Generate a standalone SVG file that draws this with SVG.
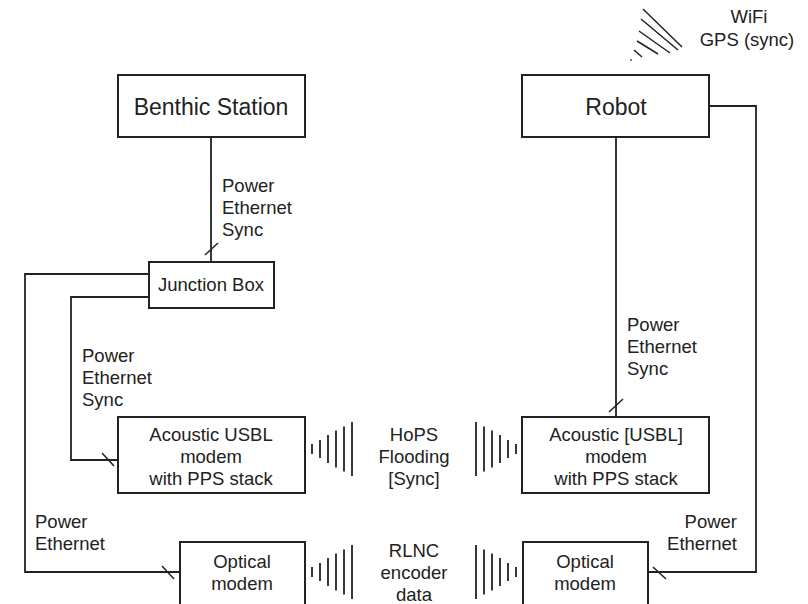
<svg xmlns="http://www.w3.org/2000/svg" width="808" height="604" viewBox="0 0 808 604">
  <style>
    .box { fill: #ffffff; stroke: #222222; stroke-width: 2; }
    .wire { fill: none; stroke: #222222; stroke-width: 1.8; }
    .tick { stroke: #222222; stroke-width: 1.5; }
    .wave { stroke: #222222; stroke-width: 1.8; }
    text { font-family: "Liberation Sans", Arial, sans-serif; font-size: 18.5px; fill: #222222; }
    .title { font-size: 23px; text-anchor: middle; }
    .mid { text-anchor: middle; }
    .end { text-anchor: end; }
  </style>
  <defs>
    <!-- fan of bars, growing taller away from the origin -->
    <g id="waveL">
      <line class="wave" x1="312" y1="-5" x2="312" y2="5"/>
      <line class="wave" x1="320" y1="-9" x2="320" y2="9"/>
      <line class="wave" x1="328" y1="-14" x2="328" y2="14"/>
      <line class="wave" x1="336" y1="-18.5" x2="336" y2="18.5"/>
      <line class="wave" x1="344" y1="-22.5" x2="344" y2="22.5"/>
      <line class="wave" x1="352" y1="-27" x2="352" y2="27"/>
    </g>
    <g id="waveR">
      <line class="wave" x1="476" y1="-27" x2="476" y2="27"/>
      <line class="wave" x1="484" y1="-22.5" x2="484" y2="22.5"/>
      <line class="wave" x1="492" y1="-18.5" x2="492" y2="18.5"/>
      <line class="wave" x1="500" y1="-14" x2="500" y2="14"/>
      <line class="wave" x1="508" y1="-9" x2="508" y2="9"/>
      <line class="wave" x1="516" y1="-5" x2="516" y2="5"/>
    </g>
  </defs>

  <rect width="808" height="604" fill="#ffffff"/>

  <!-- connectors -->
  <g id="connectors">
    <path class="wire" d="M211,137 V262"/>
    <line class="tick" x1="205" y1="255" x2="218" y2="243"/>

    <path class="wire" d="M149,274 H25 V572 H180"/>
    <line class="tick" x1="162" y1="566" x2="174" y2="579"/>

    <path class="wire" d="M149,297 H71 V460 H118"/>
    <line class="tick" x1="102" y1="453" x2="114" y2="466"/>

    <path class="wire" d="M616,138 V417"/>
    <line class="tick" x1="609" y1="412" x2="623" y2="399"/>

    <path class="wire" d="M709,106 H756 V572 H648"/>
    <line class="tick" x1="653" y1="567" x2="666" y2="579"/>
  </g>

  <!-- wireless link marks -->
  <g id="acoustic-link">
    <use href="#waveL" transform="translate(0,449)"/>
    <use href="#waveR" transform="translate(0,449)"/>
    <text class="mid" x="414" y="441">HoPS</text>
    <text class="mid" x="414" y="463">Flooding</text>
    <text class="mid" x="414" y="485">[Sync]</text>
  </g>
  <g id="optical-link">
    <use href="#waveL" transform="translate(0,572)"/>
    <use href="#waveR" transform="translate(0,572)"/>
    <text class="mid" x="414" y="557">RLNC</text>
    <text class="mid" x="414" y="579">encoder</text>
    <text class="mid" x="414" y="601">data</text>
  </g>

  <!-- radio uplink on the robot -->
  <g id="wifi-gps">
    <g class="tick" stroke-width="2">
      <line x1="643" y1="9" x2="682" y2="47"/>
      <line x1="641" y1="19" x2="678" y2="50"/>
      <line x1="639" y1="31" x2="670" y2="53"/>
      <line x1="637" y1="41" x2="658" y2="54"/>
      <line x1="634" y1="50" x2="642" y2="57"/>
    </g>
    <circle cx="631" cy="60" r="1" fill="#555555"/>
    <text class="mid" x="749" y="23">WiFi</text>
    <text class="mid" x="747" y="46">GPS (sync)</text>
  </g>

  <!-- nodes -->
  <g id="benthic-station">
    <rect class="box" x="118" y="75" width="187" height="62"/>
    <text class="title" x="211" y="115">Benthic Station</text>
  </g>
  <g id="robot">
    <rect class="box" x="522" y="75" width="187" height="62"/>
    <text class="title" x="616" y="115">Robot</text>
  </g>
  <g id="junction-box">
    <rect class="box" x="149" y="262" width="125" height="46"/>
    <text class="mid" x="211" y="291">Junction Box</text>
  </g>
  <g id="usbl-left">
    <rect class="box" x="118" y="417" width="187" height="76"/>
    <text class="mid" x="211" y="441">Acoustic USBL</text>
    <text class="mid" x="211" y="463">modem</text>
    <text class="mid" x="211" y="485">with PPS stack</text>
  </g>
  <g id="usbl-right">
    <rect class="box" x="522" y="417" width="187" height="76"/>
    <text class="mid" x="616" y="441">Acoustic [USBL]</text>
    <text class="mid" x="616" y="463">modem</text>
    <text class="mid" x="616" y="485">with PPS stack</text>
  </g>
  <g id="optical-left">
    <rect class="box" x="180" y="542" width="125" height="70"/>
    <text class="mid" x="242" y="568">Optical</text>
    <text class="mid" x="242" y="590">modem</text>
  </g>
  <g id="optical-right">
    <rect class="box" x="523" y="542" width="125" height="70"/>
    <text class="mid" x="585" y="568">Optical</text>
    <text class="mid" x="585" y="590">modem</text>
  </g>

  <!-- cable labels -->
  <g id="cable-labels">
    <text x="222" y="192">Power</text>
    <text x="222" y="214">Ethernet</text>
    <text x="222" y="236">Sync</text>

    <text x="82" y="362">Power</text>
    <text x="82" y="384">Ethernet</text>
    <text x="82" y="406">Sync</text>

    <text x="627" y="331">Power</text>
    <text x="627" y="353">Ethernet</text>
    <text x="627" y="375">Sync</text>

    <text x="35" y="528">Power</text>
    <text x="35" y="550">Ethernet</text>

    <text class="end" x="737" y="528">Power</text>
    <text class="end" x="737" y="550">Ethernet</text>
  </g>
</svg>
